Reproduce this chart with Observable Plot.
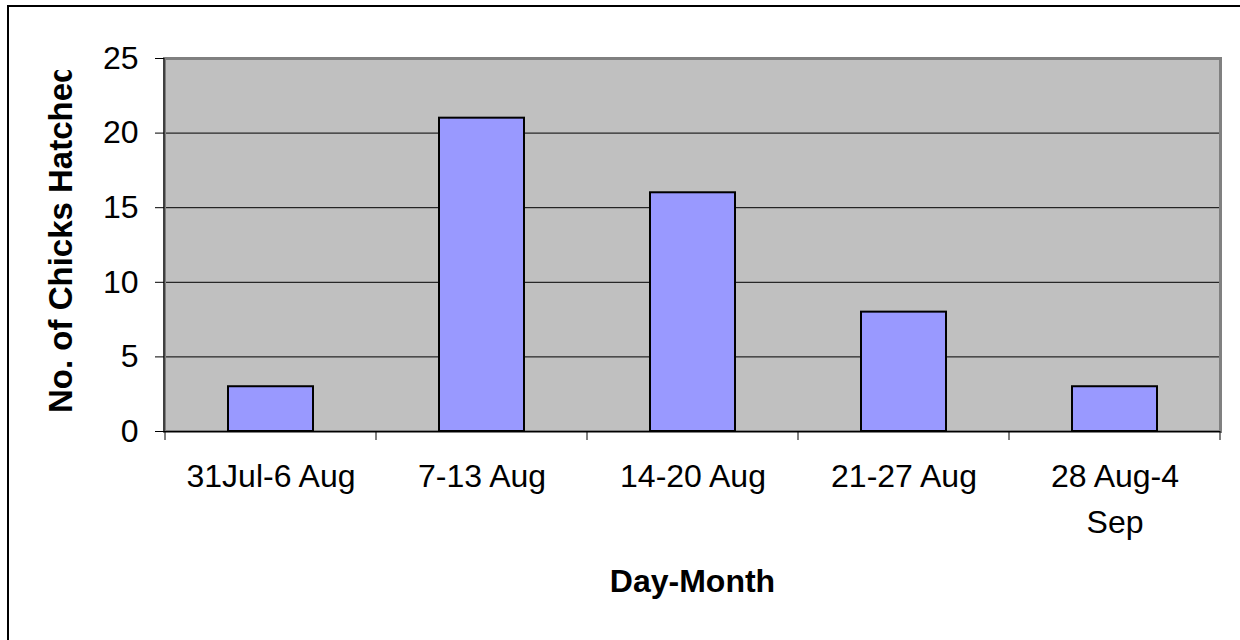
<!DOCTYPE html>
<html>
<head>
<meta charset="utf-8">
<script src="https://cdn.jsdelivr.net/npm/d3@7"></script>
<script src="https://cdn.jsdelivr.net/npm/@observablehq/plot@0.6"></script>
<style>
  html, body { margin: 0; padding: 0; background: #fff; }
  #wrap { position: relative; width: 1240px; height: 640px; overflow: hidden; }
  #border { position: absolute; left: 7px; top: 5px; right: -10px; bottom: -10px;
            border-left: 2px solid #000; border-top: 2px solid #000; pointer-events: none; }
  svg { display: block; }
</style>
</head>
<body>
<div id="wrap"><div id="border"></div></div>
<script>
// ---- data ----
const categories = ["31Jul-6 Aug", "7-13 Aug", "14-20 Aug", "21-27 Aug", "28 Aug-4 Sep"];
const tickLabels = ["31Jul-6 Aug", "7-13 Aug", "14-20 Aug", "21-27 Aug", "28 Aug-4\nSep"];
const chicks = [3, 21, 16, 8, 3];
const yTicks = [0, 5, 10, 15, 20, 25];
const xTitle = "Day-Month";
const yTitle = "No. of Chicks Hatched";

const data = categories.map((c, i) => ({cat: c, n: chicks[i]}));
const labelOf = new Map(categories.map((c, i) => [c, tickLabels[i]]));

// tick marks at category boundaries, drawn from the band scale
function boundaryTicks() {
  return (index, scales, values, dims) => {
    const x = scales.x;
    const bw = x.bandwidth ? x.bandwidth() : (dims.width - dims.marginLeft - dims.marginRight) / categories.length;
    const y0 = dims.height - dims.marginBottom;
    const xs = categories.map(c => x(c));
    xs.push(x(categories[categories.length - 1]) + bw);
    const g = d3.create("svg:g").attr("stroke", "#000").attr("stroke-width", 1);
    for (const xv of xs) {
      g.append("line").attr("x1", xv).attr("x2", xv).attr("y1", y0).attr("y2", y0 + 9);
    }
    g.append("line").attr("x1", dims.marginLeft).attr("x2", dims.marginLeft)
      .attr("y1", dims.marginTop).attr("y2", y0);
    return g.node();
  };
}

const chart = Plot.plot({
  width: 1240,
  height: 640,
  marginLeft: 164,
  marginRight: 20,
  marginTop: 58,
  marginBottom: 209,
  style: {fontFamily: "'Liberation Sans', Arial, sans-serif", fontSize: "32px", color: "#000", background: "transparent"},
  x: {domain: categories, padding: 0, axis: null},
  y: {domain: [0, 25], axis: null},
  marks: [
    Plot.frame({fill: "#c0c0c0"}),
    Plot.ruleY(yTicks.filter(d => d > 0 && d < 25), {stroke: "#000", strokeWidth: 1}),
    Plot.frame({stroke: "#808080", strokeWidth: 3}),
    Plot.barY(data, {x: "cat", y: "n", fill: "#9999ff", stroke: "#000", strokeWidth: 2, insetLeft: 63, insetRight: 63}),
    Plot.ruleY([0], {stroke: "#000", strokeWidth: 1}),
    boundaryTicks(),
    Plot.axisY({ticks: yTicks, tickSize: 9, tickPadding: 17, fontSize: 32, stroke: "#000", label: null}),
    Plot.axisX({tickSize: 0, tickPadding: 23, fontSize: 32, lineHeight: 1.43, label: null,
                tickFormat: d => labelOf.get(d)}),
    Plot.text([xTitle], {frameAnchor: "bottom", dy: 138, lineAnchor: "top", fontWeight: "bold", fontSize: 32, fill: "#000"})
  ]
});

// rotated y title, clipped at the top as in the original
const svg = d3.select(chart);
svg.append("defs").append("clipPath").attr("id", "ytclip")
  .append("rect").attr("x", 0).attr("y", 70).attr("width", 150).attr("height", 570);
svg.append("g")
  .attr("clip-path", "url(#ytclip)")
  .append("text")
  .attr("transform", "translate(72,413) rotate(-90)")
  .attr("text-anchor", "start")
  .attr("font-weight", "bold")
  .attr("font-size", 33)
  .attr("fill", "#000")
  .text(yTitle);

document.getElementById("wrap").prepend(chart);
</script>
</body>
</html>
